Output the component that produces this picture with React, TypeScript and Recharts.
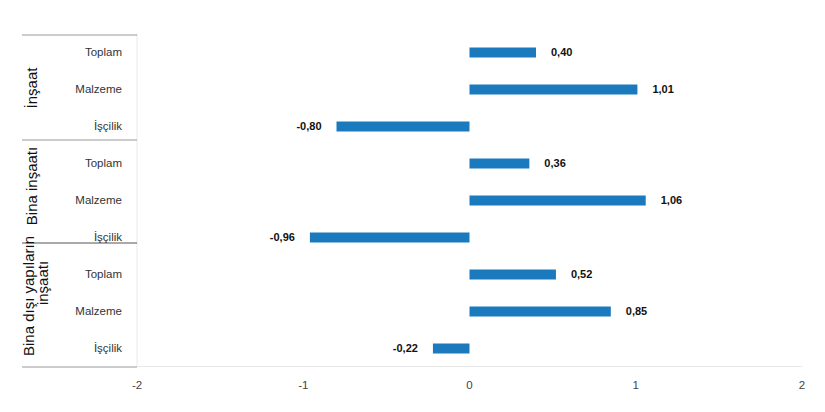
import React from 'react';
import { BarChart, Bar, XAxis, YAxis, LabelList } from 'recharts';

// categories
const groups: string[] = ['İnşaat', 'Bina inşaatı', 'Bina dışı yapıların inşaatı'];
const subCategories: string[] = ['Toplam', 'Malzeme', 'İşçilik'];

// series values, one array per group (Toplam, Malzeme, İşçilik)
const insaatValues: number[] = [0.4, 1.01, -0.8];
const binaValues: number[] = [0.36, 1.06, -0.96];
const binaDisiValues: number[] = [0.52, 0.85, -0.22];

const xTicks: number[] = [-2, -1, 0, 1, 2];

const FONT = '"Liberation Sans", Arial, Helvetica, sans-serif';
const BAR_COLOR = '#1a7abd';

const groupValues = [insaatValues, binaValues, binaDisiValues];

const data = groups.flatMap((g, gi) =>
  subCategories.map((s, si) => ({
    key: `${gi}-${si}`,
    group: g,
    sub: s,
    value: groupValues[gi][si],
  }))
);

const fmt = (v: any) => Number(v).toFixed(2).replace('.', ',');

// separator lines on the left label column (pixel positions in chart)
const SEPARATORS = [35, 140, 243, 367];

const GroupLabel = ({ x, y, text }: { x: number; y: number; text: string }) => (
  <text
    transform={`translate(${x},${y}) rotate(-90)`}
    textAnchor="middle"
    dominantBaseline="central"
    fontSize={15}
    fill="#111"
    fontFamily={FONT}
  >
    {text}
  </text>
);

const CategoryTick = (props: any) => {
  const { y, index } = props;
  const row = data[index];
  return (
    <g>
      <text
        x={122}
        y={y}
        textAnchor="end"
        dominantBaseline="central"
        fontSize={11.5}
        fill="#333"
        fontFamily={FONT}
      >
        {row?.sub}
      </text>
      {index === 0 && (
        <g>
          {SEPARATORS.map((sy, i) => (
            <line key={i} x1={22} x2={137} y1={sy} y2={sy} stroke={i === 2 ? '#555' : '#999'} strokeWidth={1} />
          ))}
          <GroupLabel x={31} y={88} text={groups[0]} />
          <GroupLabel x={31} y={186} text={groups[1]} />
          <GroupLabel x={28} y={296} text="Bina dışı yapıların" />
          <GroupLabel x={42} y={283} text="inşaatı" />
        </g>
      )}
    </g>
  );
};

export default function App() {
  return (
    <div style={{ position: 'absolute', left: 0, top: 0, width: 825, height: 412, background: '#fff' }}>
      <BarChart
        width={825}
        height={412}
        data={data}
        layout="vertical"
        margin={{ top: 33.5, right: 23, bottom: 15.5, left: 0 }}
        barCategoryGap={0}
      >
        <XAxis
          type="number"
          domain={[-2, 2]}
          ticks={xTicks}
          allowDataOverflow
          height={30}
          tickLine={false}
          tickMargin={8}
          axisLine={{ stroke: '#e8e8e8' }}
          tick={{ fontSize: 11.5, fill: '#444', fontFamily: FONT }}
        />
        <YAxis
          type="category"
          dataKey="key"
          width={137}
          tickLine={false}
          axisLine={{ stroke: '#e8e8e8' }}
          interval={0}
          tick={<CategoryTick />}
        />
        <Bar dataKey="value" fill={BAR_COLOR} barSize={10} isAnimationActive={false}>
          <LabelList
            dataKey="value"
            position="right"
            offset={15}
            formatter={fmt}
            style={{ fontSize: 11, fontWeight: 'bold', fill: '#111', fontFamily: FONT }}
          />
        </Bar>
      </BarChart>
    </div>
  );
}
